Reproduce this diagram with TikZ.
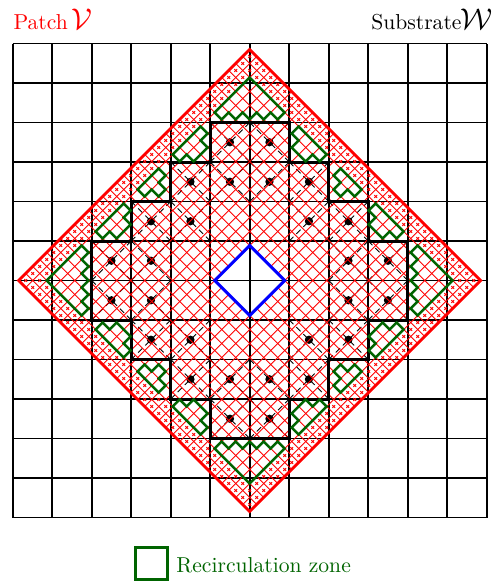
\documentclass[tikz,border=0pt]{standalone}
\definecolor{zonegreen}{RGB}{0,100,0}
\tikzset{
  gridline/.style={black,line width=1.6pt},
  stairline/.style={black,line width=3pt},
  diagline/.style={black,line width=0.8pt,dash pattern=on 6pt off 4pt},
  meshline/.style={red,line width=0.8pt},
  markline/.style={red,line width=0.8pt},
  patchline/.style={red,line width=2.8pt},
  holeline/.style={blue,line width=3pt},
  zoneline/.style={zonegreen,line width=2.5pt},
  lab/.style={inner sep=0pt,anchor=base west,scale=2.16,transform shape},
  symlab/.style={inner sep=0pt,anchor=base west,scale=3,transform shape}
}
\begin{document}
\begin{tikzpicture}[x=14pt,y=14pt]
\useasboundingbox (-17.836,-21.464) rectangle (17.521,20.036);
% substrate grid
\begin{scope}[scale=2.8214]
  \foreach \i in {-6,...,6} {
    \draw[gridline] (\i,-6) -- (\i,6);
    \draw[gridline] (-6,\i) -- (6,\i);
  }
  \foreach \sx in {1,-1} \foreach \sy in {1,-1} {
    \begin{scope}[xscale=\sx,yscale=\sy]
      \foreach \cx/\cy in {0/3,0/2,1/2,1/1,2/1,2/0,3/0} {
        \draw[diagline] (\cx,\cy) -- ++(1,1) (\cx,\cy+1) -- ++(1,-1);
        \fill (\cx+.5,\cy+.5) circle[radius=0.105];
      }
    \end{scope}
  }
\end{scope}
% patch mesh
\begin{scope}[cm={0.5,0.5,0.5,-0.5,(0,0)}]
  \foreach \k in {-17,...,16} {
    \pgfmathsetmacro{\c}{\k+0.5}
    \ifnum\k>-4 \ifnum\k<3
      \draw[meshline] (\c,-16.5) -- (\c,-2.5) (\c,2.5) -- (\c,16.5)
                      (-16.5,\c) -- (-2.5,\c) (2.5,\c) -- (16.5,\c);
    \else
      \draw[meshline] (\c,-16.5) -- (\c,16.5) (-16.5,\c) -- (16.5,\c);
    \fi\else
      \draw[meshline] (\c,-16.5) -- (\c,16.5) (-16.5,\c) -- (16.5,\c);
    \fi
  }
  \foreach \a in {-16,...,16} \foreach \b in {-16,...,16} {
    \pgfmathtruncatemacro{\m}{max(abs(\a),abs(\b))}
    \ifnum\m>14
      \draw[markline] (\a-.2,\b) -- (\a+.2,\b) (\a,\b-.2) -- (\a,\b+.2);
    \fi
  }
\end{scope}
% staircase boundary of the dotted cells
\begin{scope}[scale=2.8214]
  \draw[stairline] (-1,4) -- (1,4) -- (1,3) -- (2,3) -- (2,2) -- (3,2) -- (3,1) -- (4,1)
    -- (4,-1) -- (3,-1) -- (3,-2) -- (2,-2) -- (2,-3) -- (1,-3) -- (1,-4) -- (-1,-4)
    -- (-1,-3) -- (-2,-3) -- (-2,-2) -- (-3,-2) -- (-3,-1) -- (-4,-1) -- (-4,1)
    -- (-3,1) -- (-3,2) -- (-2,2) -- (-2,3) -- (-1,3) -- cycle;
\end{scope}
% patch and hole outlines
\draw[patchline] (16.5,0) -- (0,16.5) -- (-16.5,0) -- (0,-16.5) -- cycle;
\draw[holeline] (2.5,0) -- (0,2.5) -- (-2.5,0) -- (0,-2.5) -- cycle;
% recirculation zones
\foreach \r in {0,90,180,270} {
  \begin{scope}[rotate=\r]
  \draw[zoneline] (0,14.5) -- (2.5,12) -- (2,11.5) -- (1.5,12) -- (1,11.5) -- (0.5,12)
    -- (0,11.5) -- (-0.5,12) -- (-1,11.5) -- (-1.5,12) -- (-2,11.5) -- (-2.5,12) -- cycle;
  \end{scope}
}
\foreach \sx in {1,-1} \foreach \sy in {1,-1} {
  \begin{scope}[xscale=\sx,yscale=\sy]
    \draw[zoneline] (-5.5,9) -- (-3.5,11) -- (-3,10.5) -- (-3.5,10) -- (-3,9.5) -- (-4,8.5)
      -- (-4.5,9) -- (-5,8.5) -- cycle;
    \draw[zoneline] (-8,6.5) -- (-6.5,8) -- (-6,7.5) -- (-6.5,7) -- (-6,6.5) -- (-6.5,6)
      -- (-7,6.5) -- (-7.5,6) -- cycle;
    \draw[zoneline] (-11,3.5) -- (-9,5.5) -- (-8.5,5) -- (-9,4.5) -- (-8.5,4) -- (-9.5,3)
      -- (-10,3.5) -- (-10.5,3) -- cycle;
  \end{scope}
}
% labels
\node[lab,text=red] (patch) at (-16.9,17.96) {Patch};
\node[symlab,text=red] (patchsym) at (-12.75,17.96) {$\mathcal{V}$};
\node[lab,anchor=base east] (substrate) at (15.16,17.96) {Substrate};
\node[symlab] (substratesym) at (15.0,17.96) {$\mathcal{W}$};
\node[draw=zonegreen,line width=3pt,minimum size=32pt,inner sep=0pt] (legend) at (-7.05,-20.21) {};
\node[lab,text=zonegreen] (legendtext) at (-5.26,-20.87) {Recirculation zone};
\end{tikzpicture}
\end{document}
